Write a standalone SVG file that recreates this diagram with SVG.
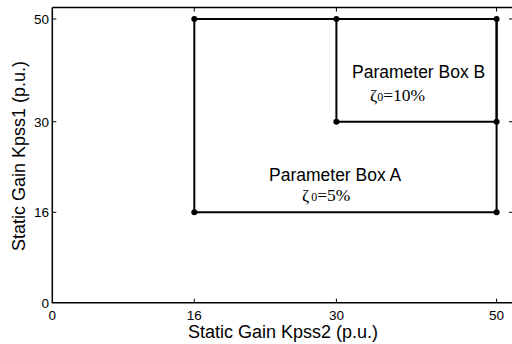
<svg xmlns="http://www.w3.org/2000/svg" width="512" height="344" viewBox="0 0 512 344">
  <style>
    .axis { stroke: #000; stroke-width: 1.5; fill: none; }
    .tick { stroke: #000; stroke-width: 1; }
    .box { stroke: #000; stroke-width: 2; fill: none; }
    .dot { fill: #000; }
    .lbl { font-family: "Liberation Sans", Arial, sans-serif; fill: #000; }
    .tl { font-size: 13.5px; }
    .al { font-size: 18px; }
    .bl { font-size: 17.5px; }
    .zeta { font-family: "Liberation Serif", "Times New Roman", serif; font-size: 17.5px; fill: #000; }
  </style>
  <rect width="512" height="344" fill="#fff"/>

  <!-- axes frame -->
  <g id="axes">
    <path class="axis" d="M52.3,7.5 H514 M52.3,7.5 V302.7 H514 M514,7.5 V302.7"/>
    <!-- left ticks -->
    <path class="tick" d="M52.3,19 h4 M52.3,121.7 h4 M52.3,212.3 h4"/>
    <!-- right ticks -->
    <path class="tick" d="M514,19 h-5 M514,121.7 h-5 M514,212.3 h-5"/>
    <!-- bottom ticks -->
    <path class="tick" d="M194.3,302.7 v-4 M336.4,302.7 v-4 M496.6,302.7 v-4"/>
    <!-- top ticks -->
    <path class="tick" d="M194.3,7.5 v4 M336.4,7.5 v4 M496.6,7.5 v4"/>

    <g class="lbl tl" text-anchor="end">
      <text x="49" y="23.8">50</text>
      <text x="49" y="126.5">30</text>
      <text x="49" y="217.1">16</text>
      <text x="49" y="307.5">0</text>
    </g>
    <g class="lbl tl" text-anchor="middle">
      <text x="52.3" y="320">0</text>
      <text x="194.3" y="320">16</text>
      <text x="336.4" y="320">30</text>
      <text x="496.6" y="320">50</text>
    </g>
    <text class="lbl al" x="283" y="338" text-anchor="middle">Static Gain Kpss2 (p.u.)</text>
    <text class="lbl al" transform="translate(25,156) rotate(-90)" text-anchor="middle">Static Gain Kpss1 (p.u.)</text>
  </g>

  <!-- Parameter Box A -->
  <g id="boxA">
    <path class="box" d="M194.3,19 H496.6 V212.3 H194.3 Z"/>
    <circle class="dot" cx="194.3" cy="19" r="3"/>
    <circle class="dot" cx="194.3" cy="212.3" r="3"/>
    <circle class="dot" cx="496.6" cy="212.3" r="3"/>
    <text class="lbl bl" x="269" y="181">Parameter Box A</text>
    <text class="zeta" x="302" y="201">ζ<tspan dx="2" font-size="12">0</tspan>=5%</text>
  </g>

  <!-- Parameter Box B -->
  <g id="boxB">
    <path class="box" d="M336.4,19 H496.6 V121.7 H336.4 Z"/>
    <circle class="dot" cx="336.4" cy="19" r="3"/>
    <circle class="dot" cx="496.6" cy="19" r="3"/>
    <circle class="dot" cx="336.4" cy="121.7" r="3"/>
    <circle class="dot" cx="496.6" cy="121.7" r="3"/>
    <text class="lbl bl" x="352" y="77.5">Parameter Box B</text>
    <text class="zeta" x="370" y="101">ζ<tspan font-size="12">0</tspan>=10%</text>
  </g>
</svg>
